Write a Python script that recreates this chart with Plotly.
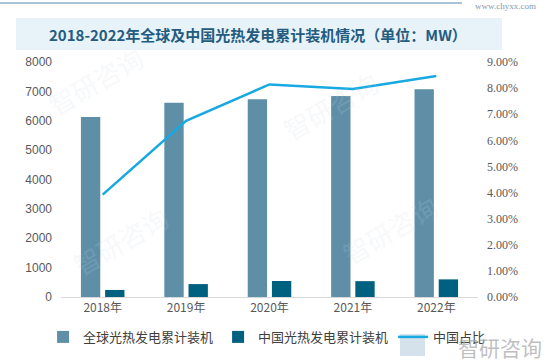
import plotly.graph_objects as go

years = ["2018年", "2019年", "2020年", "2021年", "2022年"]
global_mw = [6130, 6610, 6730, 6840, 7070]
china_mw = [240, 440, 545, 540, 600]
china_share = [0.0392, 0.0675, 0.0814, 0.0797, 0.0846]

left_ticks = [0, 1000, 2000, 3000, 4000, 5000, 6000, 7000, 8000]
right_ticks = [i / 100 for i in range(10)]

W, H = 552, 364
L, R, T, B = 61, 74, 62, 67

fig = go.Figure()
fig.add_trace(go.Bar(x=years, y=global_mw, name="全球光热发电累计装机",
                     marker=dict(color="#5e8fa7", line=dict(width=0))))
fig.add_trace(go.Bar(x=years, y=china_mw, name="中国光热发电累计装机",
                     marker=dict(color="#00607f", line=dict(width=0))))
fig.add_trace(go.Scatter(x=years, y=china_share, name="中国占比", yaxis="y2",
                         mode="lines", line=dict(color="#17a9e1", width=2.5)))

tick_font = dict(family="Liberation Sans, Arial", size=12, color="#595959")

fig.update_layout(
    width=W, height=H,
    margin=dict(l=L, r=R, t=T, b=B),
    paper_bgcolor="white", plot_bgcolor="white",
    barmode="group", bargap=0.42, bargroupgap=0.2,
    showlegend=True,
    legend=dict(orientation="h", x=-0.043, y=-0.17, xanchor="left", yanchor="middle",
                font=dict(family="Noto Sans CJK SC", size=13, color="#404040"),
                itemwidth=30, tracegroupgap=0, bgcolor="rgba(0,0,0,0)"),
    xaxis=dict(showgrid=False, showline=True, linecolor="#d9d9d9", linewidth=1,
               ticks="", tickfont=dict(family="Noto Sans CJK SC", size=12, color="#595959")),
    yaxis=dict(range=[0, 8000], tickvals=left_ticks, showgrid=False, zeroline=False,
               showline=False, ticks="", ticklabelstandoff=8, tickfont=tick_font),
    yaxis2=dict(range=[0, 0.09], tickvals=right_ticks, tickformat=".2%", overlaying="y",
                side="right", showgrid=False, zeroline=False, showline=False, ticks="",
                ticklabelstandoff=8, tickfont=dict(family="Liberation Serif, serif", size=12, color="#595959")),
)

px = lambda x: (x - L) / (W - L - R)
py = lambda y: (H - B - y) / (H - T - B)

# top decorative line and url
fig.add_shape(type="line", xref="paper", yref="paper", x0=px(0), x1=px(462),
              y0=py(3), y1=py(3), line=dict(color="#a9c4d8", width=2))
fig.add_annotation(xref="paper", yref="paper", x=px(505), y=py(6), text="www.chyxx.com",
                   xanchor="center", yanchor="middle", showarrow=False,
                   font=dict(family="Liberation Serif", size=9, color="#7f9bb0"))

# title banner
fig.add_shape(type="rect", xref="paper", yref="paper", x0=px(16), x1=px(502),
              y0=py(50), y1=py(18), fillcolor="#e8f2f9", line=dict(width=0), layer="below")
fig.add_annotation(xref="paper", yref="paper", x=px(258), y=py(34),
                   xanchor="center", yanchor="middle",
                   text="<b>2018-2022年全球及中国光热发电累计装机情况（单位：MW）</b>",
                   showarrow=False,
                   font=dict(family="Noto Sans CJK SC", size=15, color="#245b80"))

# faint watermarks
for (wx, wy) in [(95, 80), (330, 105), (120, 240), (390, 230)]:
    fig.add_annotation(xref="paper", yref="paper", x=px(wx), y=py(wy), text="智研咨询",
                       xanchor="center", yanchor="middle", showarrow=False, textangle=-30,
                       font=dict(family="Noto Sans CJK SC", size=26, color="rgba(200,215,228,0.18)"))

# bottom-right logo (overlaps the legend in the reference too)
fig.add_shape(type="rect", xref="paper", yref="paper", x0=px(400), x1=px(425),
              y0=py(356), y1=py(334), fillcolor="rgba(150,180,205,0.4)", line=dict(width=0),
              layer="below")
fig.add_annotation(xref="paper", yref="paper", x=px(500), y=py(347), text="智研咨询",
                   xanchor="center", yanchor="middle", showarrow=False,
                   font=dict(family="Noto Sans CJK SC", size=21, color="rgba(170,170,170,0.75)"))

fig.write_html("out.html", config={"displayModeBar": False},
               post_script="document.body.style.margin='0';")
